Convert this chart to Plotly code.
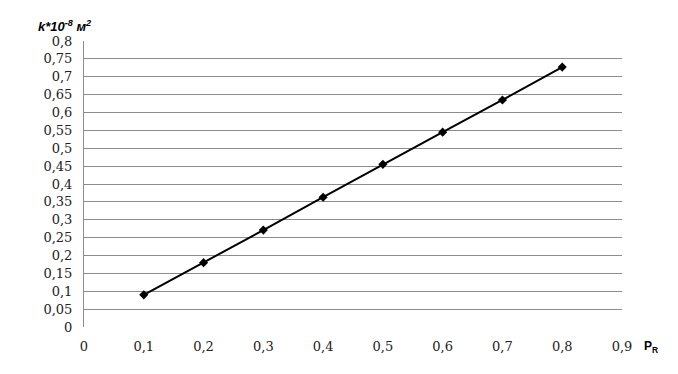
import plotly.graph_objects as go

x_vals = [0.1, 0.2, 0.3, 0.4, 0.5, 0.6, 0.7, 0.8]
k_vals = [0.09, 0.18, 0.271, 0.363, 0.455, 0.545, 0.635, 0.727]

x_ticks = [0, 0.1, 0.2, 0.3, 0.4, 0.5, 0.6, 0.7, 0.8, 0.9]
x_labels = ["0", "0,1", "0,2", "0,3", "0,4", "0,5", "0,6", "0,7", "0,8", "0,9"]
y_ticks = [round(i * 0.05, 2) for i in range(17)]
y_labels = [("%g" % v).replace(".", ",") for v in y_ticks]

SERIF = '"DejaVu Serif", "Liberation Serif", serif'

fig = go.Figure()
fig.add_trace(go.Scatter(
    x=x_vals, y=k_vals, mode="lines+markers",
    line=dict(color="black", width=2),
    marker=dict(symbol="diamond", size=7, color="black"),
    showlegend=False,
))

fig.update_layout(
    width=678, height=374,
    margin=dict(l=76, r=64, t=33, b=55),
    paper_bgcolor="white", plot_bgcolor="white",
    font=dict(family=SERIF, size=13, color="#222"),
    xaxis=dict(range=[0, 0.9], tickvals=x_ticks, ticktext=x_labels,
               showgrid=False, zeroline=False, showline=False,
               tickfont=dict(family=SERIF, size=13, color="#222"),
               ticks="", ticklabelstandoff=10, fixedrange=True),
    yaxis=dict(range=[0, 0.8], tickvals=y_ticks, ticktext=y_labels,
               showgrid=True, gridcolor="#8c8c8c", gridwidth=1,
               zeroline=False, showline=True, linecolor="#8c8c8c", linewidth=1,
               tickfont=dict(family=SERIF, size=13, color="#222"),
               ticks="", ticklabelstandoff=8, fixedrange=True),
    annotations=[
        dict(text="<b><i>k*10<sup>-8</sup> м<sup>2</sup></i></b>", xref="paper", yref="paper",
             x=-0.09, y=1.0, xanchor="left", yanchor="bottom", yshift=5,
             showarrow=False, font=dict(family='"Liberation Sans", Arial, sans-serif', size=13, color="black")),
        dict(text="<b>P<sub>R</sub></b>", xref="paper", yref="paper",
             x=1.0, y=0, xanchor="left", yanchor="top", xshift=20, yshift=-10,
             showarrow=False, font=dict(family='"Liberation Sans", Arial, sans-serif', size=12, color="black")),
    ],
)

fig.write_html("out.html")
